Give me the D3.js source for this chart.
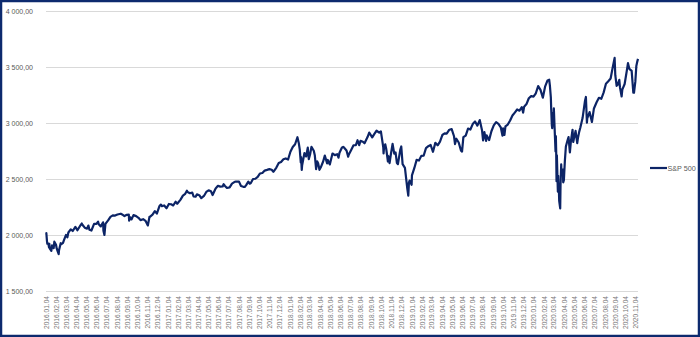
<!DOCTYPE html>
<html>
<head>
<meta charset="utf-8">
<script src="https://cdn.jsdelivr.net/npm/d3@7"></script>
<style>
  html, body { margin: 0; padding: 0; background: #fff; }
  svg { display: block; font-family: "Liberation Sans", Arial, sans-serif; }
</style>
</head>
<body>
<svg id="chart" width="700" height="337"></svg>
<script>
const SERIES_NAME = 'S&P 500';

const closes2016 = [
  ['2016-01-04', 2012.7], ['2016-01-05', 2016.7], ['2016-01-07', 1943.1], ['2016-01-08', 1922.0],
  ['2016-01-11', 1923.7], ['2016-01-13', 1890.3], ['2016-01-14', 1921.8], ['2016-01-15', 1880.3],
  ['2016-01-20', 1859.3], ['2016-01-22', 1906.9], ['2016-01-27', 1883.0], ['2016-01-29', 1940.2],
  ['2016-02-03', 1912.5], ['2016-02-05', 1880.1], ['2016-02-08', 1853.4], ['2016-02-11', 1829.1],
  ['2016-02-12', 1864.8], ['2016-02-17', 1926.8], ['2016-02-19', 1917.8], ['2016-02-24', 1929.8],
  ['2016-02-26', 1948.1], ['2016-03-01', 1978.4], ['2016-03-04', 2000.0], ['2016-03-08', 1979.3],
  ['2016-03-11', 2022.2], ['2016-03-18', 2049.6], ['2016-03-24', 2035.9], ['2016-04-01', 2072.8],
  ['2016-04-07', 2041.9], ['2016-04-08', 2047.6], ['2016-04-15', 2080.7], ['2016-04-20', 2102.4],
  ['2016-04-22', 2091.6], ['2016-04-29', 2065.3], ['2016-05-06', 2057.1], ['2016-05-10', 2084.4],
  ['2016-05-13', 2046.6], ['2016-05-19', 2040.0], ['2016-05-27', 2099.1], ['2016-06-03', 2099.1],
  ['2016-06-08', 2119.1], ['2016-06-10', 2096.1], ['2016-06-16', 2077.0], ['2016-06-23', 2113.3],
  ['2016-06-24', 2037.4], ['2016-06-27', 2000.5], ['2016-06-30', 2098.9], ['2016-07-08', 2129.9],
  ['2016-07-15', 2161.7], ['2016-07-22', 2175.0], ['2016-07-29', 2173.6], ['2016-08-05', 2182.9],
  ['2016-08-15', 2190.2], ['2016-08-19', 2183.9], ['2016-08-26', 2169.0], ['2016-09-02', 2180.0],
  ['2016-09-08', 2181.3], ['2016-09-09', 2127.8], ['2016-09-12', 2159.0], ['2016-09-16', 2139.2],
  ['2016-09-22', 2177.2], ['2016-09-30', 2168.3], ['2016-10-07', 2153.7], ['2016-10-13', 2132.6],
  ['2016-10-21', 2141.2], ['2016-10-28', 2126.4], ['2016-11-04', 2085.2], ['2016-11-09', 2163.3],
  ['2016-11-11', 2164.5], ['2016-11-18', 2181.9], ['2016-11-25', 2213.4], ['2016-12-01', 2191.1],
  ['2016-12-09', 2259.5], ['2016-12-13', 2271.7], ['2016-12-16', 2258.1], ['2016-12-23', 2263.8],
  ['2016-12-30', 2238.8],
];

const closes2017 = [
  ['2017-01-06', 2277.0], ['2017-01-13', 2274.6], ['2017-01-19', 2263.7], ['2017-01-26', 2296.7],
  ['2017-01-31', 2278.9], ['2017-02-10', 2316.1], ['2017-02-17', 2351.2], ['2017-02-24', 2367.3],
  ['2017-03-01', 2396.0], ['2017-03-03', 2383.1], ['2017-03-10', 2372.6], ['2017-03-17', 2378.3],
  ['2017-03-21', 2344.0], ['2017-03-27', 2341.6], ['2017-03-31', 2362.7], ['2017-04-07', 2355.5],
  ['2017-04-13', 2329.0], ['2017-04-21', 2348.7], ['2017-04-28', 2384.2], ['2017-05-05', 2399.3],
  ['2017-05-12', 2390.9], ['2017-05-17', 2357.0], ['2017-05-26', 2415.8], ['2017-06-02', 2439.1],
  ['2017-06-09', 2431.8], ['2017-06-16', 2433.2], ['2017-06-19', 2453.5], ['2017-06-23', 2438.3],
  ['2017-06-29', 2419.7], ['2017-07-07', 2425.2], ['2017-07-14', 2459.3], ['2017-07-21', 2472.5],
  ['2017-07-26', 2477.8], ['2017-08-04', 2476.8], ['2017-08-10', 2438.2], ['2017-08-17', 2430.0],
  ['2017-08-21', 2428.4], ['2017-08-25', 2443.1], ['2017-09-01', 2476.6], ['2017-09-05', 2457.9],
  ['2017-09-08', 2461.4], ['2017-09-15', 2500.2], ['2017-09-22', 2502.2], ['2017-09-29', 2519.4],
  ['2017-10-06', 2549.3], ['2017-10-13', 2553.2], ['2017-10-20', 2575.2], ['2017-10-27', 2581.1],
  ['2017-11-03', 2587.8], ['2017-11-10', 2582.3], ['2017-11-15', 2564.6], ['2017-11-24', 2602.4],
  ['2017-12-01', 2642.2], ['2017-12-08', 2651.5], ['2017-12-15', 2675.8], ['2017-12-22', 2683.3],
  ['2017-12-29', 2673.6],
];

const closes2018 = [
  ['2018-01-05', 2743.2], ['2018-01-12', 2786.2], ['2018-01-19', 2810.3], ['2018-01-26', 2872.9],
  ['2018-01-30', 2822.4], ['2018-02-02', 2762.1], ['2018-02-05', 2648.9], ['2018-02-06', 2695.1],
  ['2018-02-08', 2581.0], ['2018-02-09', 2619.6], ['2018-02-16', 2732.2], ['2018-02-21', 2701.3],
  ['2018-02-26', 2779.6], ['2018-03-01', 2677.7], ['2018-03-05', 2720.9], ['2018-03-09', 2786.6],
  ['2018-03-16', 2752.0], ['2018-03-19', 2712.9], ['2018-03-23', 2588.3], ['2018-03-26', 2658.6],
  ['2018-03-29', 2640.9], ['2018-04-02', 2581.9], ['2018-04-06', 2604.5], ['2018-04-13', 2656.3],
  ['2018-04-18', 2708.6], ['2018-04-25', 2639.4], ['2018-04-27', 2669.9], ['2018-05-03', 2629.7],
  ['2018-05-11', 2727.7], ['2018-05-18', 2713.0], ['2018-05-25', 2721.3], ['2018-05-29', 2689.9],
  ['2018-06-01', 2734.6], ['2018-06-08', 2779.0], ['2018-06-12', 2786.9], ['2018-06-15', 2779.7],
  ['2018-06-22', 2754.9], ['2018-06-27', 2699.6], ['2018-06-29', 2718.4], ['2018-07-06', 2759.8],
  ['2018-07-13', 2801.3], ['2018-07-20', 2801.8], ['2018-07-25', 2846.1], ['2018-07-30', 2802.6],
  ['2018-08-03', 2840.4], ['2018-08-10', 2833.3], ['2018-08-15', 2818.4], ['2018-08-24', 2874.7],
  ['2018-08-29', 2914.0], ['2018-09-07', 2871.7], ['2018-09-14', 2905.0], ['2018-09-20', 2930.8],
  ['2018-09-28', 2914.0], ['2018-10-03', 2925.5], ['2018-10-05', 2885.6], ['2018-10-10', 2785.7],
  ['2018-10-11', 2728.4], ['2018-10-12', 2767.1], ['2018-10-16', 2809.9], ['2018-10-19', 2767.8],
  ['2018-10-24', 2656.1], ['2018-10-25', 2705.6], ['2018-10-29', 2641.3], ['2018-11-02', 2723.1],
  ['2018-11-07', 2813.9], ['2018-11-12', 2726.2], ['2018-11-16', 2736.3], ['2018-11-20', 2641.9],
  ['2018-11-23', 2632.6], ['2018-11-30', 2760.2], ['2018-12-03', 2790.4], ['2018-12-07', 2633.1],
  ['2018-12-14', 2600.0], ['2018-12-21', 2416.6], ['2018-12-24', 2351.1], ['2018-12-26', 2467.7],
  ['2018-12-28', 2485.7],
];

const closes2019 = [
  ['2019-01-03', 2447.9], ['2019-01-04', 2531.9], ['2019-01-11', 2596.3], ['2019-01-18', 2670.7],
  ['2019-01-25', 2664.8], ['2019-02-01', 2706.5], ['2019-02-08', 2707.9], ['2019-02-15', 2775.6],
  ['2019-02-22', 2792.7], ['2019-03-01', 2803.7], ['2019-03-08', 2743.1], ['2019-03-15', 2822.5],
  ['2019-03-22', 2800.7], ['2019-03-29', 2834.4], ['2019-04-05', 2892.7], ['2019-04-12', 2907.4],
  ['2019-04-18', 2905.0], ['2019-04-26', 2939.9], ['2019-05-03', 2945.6], ['2019-05-10', 2881.4],
  ['2019-05-13', 2811.9], ['2019-05-17', 2859.5], ['2019-05-24', 2826.1], ['2019-05-31', 2752.1],
  ['2019-06-03', 2744.5], ['2019-06-07', 2873.3], ['2019-06-14', 2887.0], ['2019-06-21', 2950.5],
  ['2019-06-28', 2941.8], ['2019-07-05', 2990.4], ['2019-07-12', 3013.8], ['2019-07-19', 2976.6],
  ['2019-07-26', 3025.9], ['2019-08-02', 2932.1], ['2019-08-05', 2844.7], ['2019-08-09', 2918.7],
  ['2019-08-14', 2840.6], ['2019-08-16', 2888.7], ['2019-08-23', 2847.1], ['2019-08-30', 2926.5],
  ['2019-09-06', 2978.7], ['2019-09-13', 3007.4], ['2019-09-20', 2992.1], ['2019-09-27', 2961.8],
  ['2019-10-02', 2887.6], ['2019-10-04', 2952.0], ['2019-10-08', 2893.1], ['2019-10-11', 2970.3],
  ['2019-10-18', 2986.2], ['2019-10-25', 3022.6], ['2019-11-01', 3066.9], ['2019-11-08', 3093.1],
  ['2019-11-15', 3120.5], ['2019-11-22', 3110.3], ['2019-11-29', 3141.0], ['2019-12-03', 3093.2],
  ['2019-12-06', 3145.9], ['2019-12-13', 3168.8], ['2019-12-20', 3221.2], ['2019-12-27', 3240.0],
];

const closes2020 = [
  ['2020-01-03', 3234.9], ['2020-01-10', 3265.4], ['2020-01-17', 3329.6], ['2020-01-24', 3295.5],
  ['2020-01-31', 3225.5], ['2020-02-07', 3327.7], ['2020-02-14', 3380.2], ['2020-02-19', 3386.2],
  ['2020-02-21', 3337.8], ['2020-02-24', 3225.9], ['2020-02-25', 3128.2], ['2020-02-27', 2978.8],
  ['2020-02-28', 2954.2], ['2020-03-02', 3090.2], ['2020-03-03', 3003.4], ['2020-03-04', 3130.1],
  ['2020-03-06', 2972.4], ['2020-03-09', 2746.6], ['2020-03-10', 2882.2], ['2020-03-11', 2741.4],
  ['2020-03-12', 2480.6], ['2020-03-13', 2711.0], ['2020-03-16', 2386.1], ['2020-03-17', 2529.2],
  ['2020-03-18', 2398.1], ['2020-03-19', 2409.4], ['2020-03-20', 2304.9], ['2020-03-23', 2237.4],
  ['2020-03-24', 2447.3], ['2020-03-26', 2630.1], ['2020-03-27', 2541.5], ['2020-03-31', 2584.6],
  ['2020-04-01', 2470.5], ['2020-04-03', 2488.7], ['2020-04-06', 2663.7], ['2020-04-09', 2789.8],
  ['2020-04-14', 2846.1], ['2020-04-17', 2874.6], ['2020-04-21', 2736.6], ['2020-04-24', 2836.7],
  ['2020-04-29', 2939.5], ['2020-05-01', 2830.7], ['2020-05-08', 2929.8], ['2020-05-13', 2820.0],
  ['2020-05-15', 2863.7], ['2020-05-19', 2922.9], ['2020-05-22', 2955.5], ['2020-05-29', 3044.3],
  ['2020-06-05', 3193.9], ['2020-06-08', 3232.4], ['2020-06-11', 3002.1], ['2020-06-12', 3041.3],
  ['2020-06-19', 3097.7], ['2020-06-26', 3009.1], ['2020-07-02', 3130.0], ['2020-07-10', 3185.0],
  ['2020-07-17', 3224.7], ['2020-07-24', 3215.6], ['2020-07-31', 3271.1], ['2020-08-07', 3351.3],
  ['2020-08-14', 3372.9], ['2020-08-21', 3397.2], ['2020-08-28', 3508.0], ['2020-09-02', 3580.8],
  ['2020-09-04', 3427.0], ['2020-09-08', 3331.8], ['2020-09-11', 3341.0], ['2020-09-16', 3385.5],
  ['2020-09-18', 3319.5], ['2020-09-23', 3236.9], ['2020-09-25', 3298.5], ['2020-10-02', 3348.4],
  ['2020-10-09', 3477.1], ['2020-10-12', 3534.2], ['2020-10-16', 3483.8], ['2020-10-23', 3465.4],
  ['2020-10-28', 3271.0], ['2020-10-30', 3270.0], ['2020-11-03', 3369.2], ['2020-11-06', 3509.4],
  ['2020-11-09', 3550.5], ['2020-11-11', 3572.7],
];

const yTicks = [1500, 2000, 2500, 3000, 3500, 4000];

const NAVY = '#0c2466';
const GRID = '#d9d9d9';
const TEXT = '#595959';

const parse = d3.timeParse('%Y-%m-%d');
const data = [...closes2016, ...closes2017, ...closes2018, ...closes2019, ...closes2020]
  .map(([d, v]) => ({ date: parse(d), value: v }));

const locale = d3.formatLocale({ decimal: ',', thousands: '\u00a0', grouping: [3], currency: ['', ''] });
const fmtY = locale.format(',.2f');
const fmtX = d3.timeFormat('%Y.%m.%d');

const svg = d3.select('#chart');
const plot = { left: 46, right: 638, top: 11, bottom: 291 };

const x = d3.scaleTime()
  .domain(d3.extent(data, d => d.date))
  .range([plot.left, plot.right]);
const y = d3.scaleLinear()
  .domain([1500, 4000])
  .range([plot.bottom, plot.top]);

// gridlines + y labels
svg.append('g')
  .attr('transform', `translate(${plot.left},0)`)
  .call(d3.axisLeft(y).tickValues(yTicks).tickSize(-(plot.right - plot.left)).tickPadding(13).tickFormat(fmtY))
  .call(g => g.select('.domain').remove())
  .call(g => g.selectAll('line').attr('stroke', GRID).attr('stroke-width', 1))
  .call(g => g.selectAll('text')
    .attr('fill', TEXT)
    .attr('font-size', 7)
    .attr('font-family', '"Liberation Sans", Arial, sans-serif'));

// x labels, one per month on the 4th
const months = d3.timeMonth.range(parse('2016-01-01'), parse('2020-11-02'))
  .map(m => d3.timeDay.offset(m, 3));

svg.append('g')
  .attr('transform', `translate(0,${plot.bottom})`)
  .call(d3.axisBottom(x).tickValues(months).tickSize(0).tickPadding(0).tickFormat(fmtX))
  .call(g => g.select('.domain').remove())
  .call(g => g.selectAll('text')
    .attr('fill', '#767676')
    .attr('font-size', 6.6)
    .attr('font-family', '"Liberation Sans", Arial, sans-serif')
    .attr('text-anchor', 'end')
    .attr('dy', '0.32em')
    .attr('transform', 'translate(0,5) rotate(-90)')
    .attr('x', 0)
    .attr('y', 0));

const line = d3.line()
  .x(d => x(d.date))
  .y(d => y(d.value));

svg.append('path')
  .datum(data)
  .attr('d', line)
  .attr('fill', 'none')
  .attr('stroke', NAVY)
  .attr('stroke-width', 2.2)
  .attr('stroke-linejoin', 'round');

// legend
const legend = svg.append('g').attr('transform', 'translate(650,168)');
legend.append('line')
  .attr('x1', 0).attr('x2', 17)
  .attr('stroke', NAVY).attr('stroke-width', 2.2);
legend.append('text')
  .attr('x', 17.5).attr('y', 0)
  .attr('dy', '0.35em')
  .attr('fill', TEXT)
  .attr('font-size', 7.2)
  .text(SERIES_NAME);

// frame
svg.append('rect')
  .attr('x', 1).attr('y', 1)
  .attr('width', 698).attr('height', 335)
  .attr('fill', 'none')
  .attr('stroke', '#0d2a6e')
  .attr('stroke-width', 2.5);
</script>
</body>
</html>
